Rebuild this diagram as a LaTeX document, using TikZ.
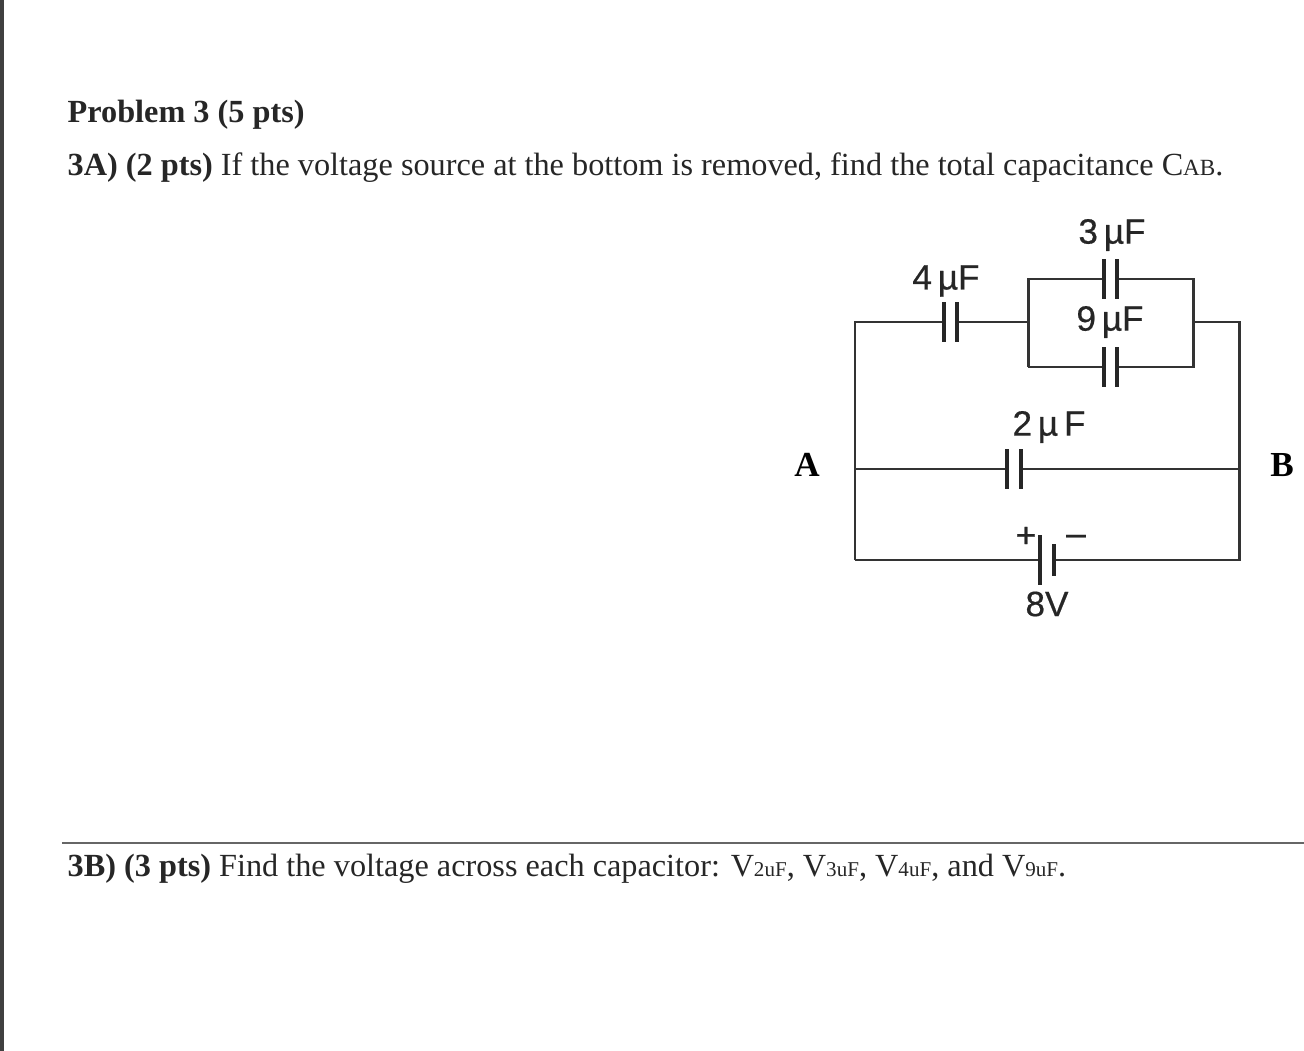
\documentclass[tikz,border=0pt]{standalone}
\usepackage{xcolor}
\usepackage{fontspec}
\setmainfont{Liberation Serif}
\newfontfamily\labelfont[FakeBold=0.5]{Liberation Sans}
\usepackage{tikz}
\usetikzlibrary{positioning}
\newcommand{\lowsub}[1]{{\fontsize{6pt}{8pt}\selectfont #1}}
\tikzset{
    textline/.style={anchor=base west, inner sep=0pt, font=\fontsize{9.18pt}{11pt}\selectfont, text=black!85},
    partlabel/.style={inner sep=0pt, font=\labelfont\fontsize{10pt}{12pt}\selectfont, text=black!85},
    endlabel/.style={inner sep=0pt, font=\bfseries\fontsize{10pt}{12pt}\selectfont},
    plate/.style={fill=black!85, inner sep=0pt, minimum width=1pt, minimum height=#1},
    wire/.style={draw=black!80, line width=0.85pt}
}
\begin{document}
\begin{tikzpicture}
        \useasboundingbox (0,0) rectangle (13.04,-10.51);
        \fill[black!75] (0,0) rectangle (0.035,-10.51);

        \node[textline] (title) at (0.67,-1.23) {\textbf{Problem 3 (5 pts)}};
        \node[textline] (parta) at (0.67,-1.76) {\textbf{3A) (2 pts)} If the voltage source at the bottom is removed, find the total capacitance C{\fontsize{6.6pt}{8pt}\selectfont AB}.};
        \node[textline] (partb) at (0.67,-8.76) {\textbf{3B) (3 pts)} Find the voltage across each capacitor: V\lowsub{2uF}, V\lowsub{3uF}, V\lowsub{4uF}, and V\lowsub{9uF}.};

        \coordinate (ruleleft) at (0.62,-8.43);
        \coordinate (ruleright) at (13.04,-8.43);
        \draw[black!60, line width=0.4pt] (ruleleft) -- (ruleright);

        % corners of the circuit
        \coordinate (topleft) at (8.55,-3.22);
        \coordinate (topright) at (12.39,-3.22);
        \coordinate (midleft) at (8.55,-4.69);
        \coordinate (midright) at (12.39,-4.69);
        \coordinate (botleft) at (8.55,-5.60);
        \coordinate (botright) at (12.39,-5.60);
        \coordinate (boxleft) at (10.28,-3.22);
        \coordinate (boxright) at (11.93,-3.22);
        \coordinate (boxtl) at (10.28,-2.79);
        \coordinate (boxtr) at (11.93,-2.79);
        \coordinate (boxbl) at (10.28,-3.67);
        \coordinate (boxbr) at (11.93,-3.67);

        % capacitor plates
        \node[plate=11.5pt] (fourl) at (9.44,-3.22) {};
        \node[plate=11.5pt] (fourr) at (9.57,-3.22) {};
        \node[plate=11.5pt] (threel) at (11.04,-2.79) {};
        \node[plate=11.5pt] (threer) at (11.17,-2.79) {};
        \node[plate=11.5pt] (ninel) at (11.04,-3.67) {};
        \node[plate=11.5pt] (niner) at (11.17,-3.67) {};
        \node[plate=11.5pt] (twol) at (10.07,-4.69) {};
        \node[plate=11.5pt] (twor) at (10.21,-4.69) {};
        \node[plate=14pt] (batl) at (10.40,-5.60) {};
        \node[plate=9pt] (batr) at (10.54,-5.60) {};

        % wires
        \draw[wire] (botleft) -- (topleft) -- (fourl);
        \draw[wire] (midleft) -- (twol);
        \draw[wire] (botleft) -- (batl);
        \draw[wire] (fourr) -- (boxleft);
        \draw[wire] (boxbl) -- (boxtl) -- (threel);
        \draw[wire] (threer) -- (boxtr) -- (boxbr) -- (niner);
        \draw[wire] (boxbl) -- (ninel);
        \draw[wire] (boxright) -- (topright) -- (botright) -- (batr);
        \draw[wire] (twor) -- (midright);

        % labels
        \node[partlabel] (three) at (11.12,-2.35) {3\,µF};
        \node[partlabel] (four) at (9.46,-2.81) {4\,µF};
        \node[partlabel] (nine) at (11.10,-3.22) {9\,µF};
        \node[partlabel] (two) at (10.49,-4.27) {2\,µ\,F};
        \node[partlabel] (volt) at (10.47,-6.04) {8V};
        \node[partlabel] (plus) at (10.26,-5.37) {+};
        \node[partlabel] (minus) at (10.76,-5.40) {–};
        \node[endlabel] (a) at (8.07,-4.65) {A};
        \node[endlabel] (b) at (12.82,-4.65) {B};
    \end{tikzpicture}
\end{document}
